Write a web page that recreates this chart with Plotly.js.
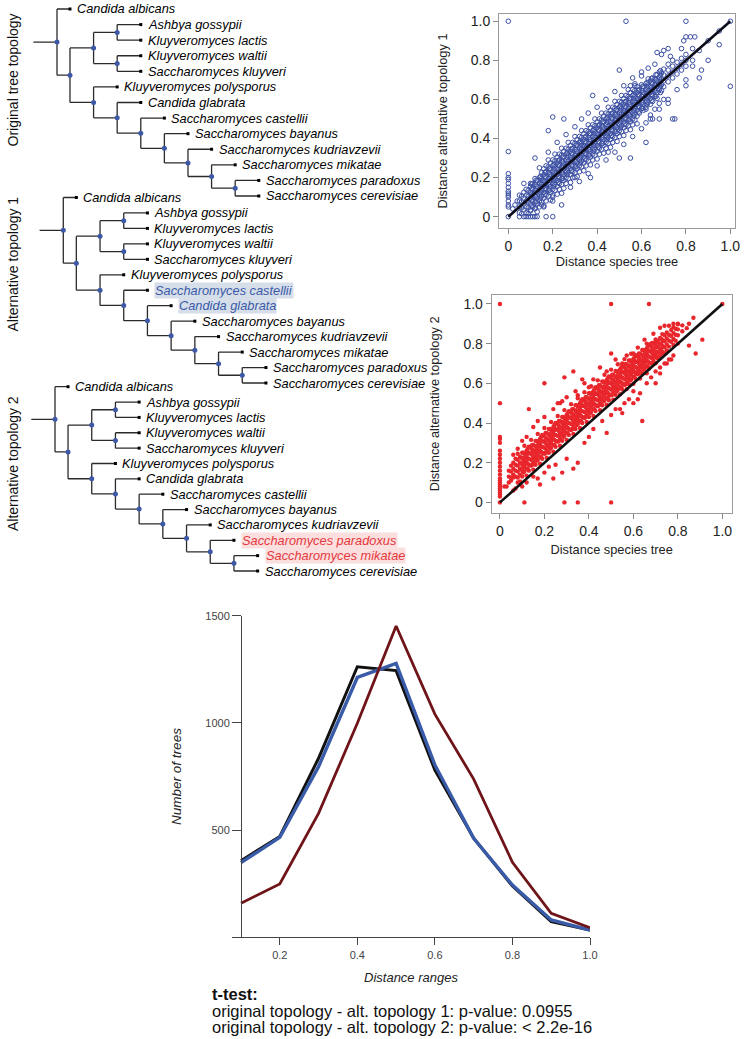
<!DOCTYPE html>
<html><head><meta charset="utf-8">
<script src="https://cdn.plot.ly/plotly-3.0.1.min.js"></script>
<style>html,body{margin:0;padding:0;background:#fff;}#chart{width:749px;height:1039px;}</style>
</head><body><div id="chart"></div>
<script>
// ================= DATA =================
const treeOriginal = "(Candida albicans:0.55,(((Ashbya gossypii:1,Kluyveromyces lactis:1):1,(Kluyveromyces waltii:1,Saccharomyces kluyveri:1):1):1,(Kluyveromyces polysporus:1,(Candida glabrata:1,(Saccharomyces castellii:1,(Saccharomyces bayanus:1,(Saccharomyces kudriavzevii:1,(Saccharomyces mikatae:1,(Saccharomyces paradoxus:1,Saccharomyces cerevisiae:1):1):1):1):1):1):1):1):0.55)";
const treeAlt1 = "(Candida albicans:0.55,(((Ashbya gossypii:1,Kluyveromyces lactis:1):1,(Kluyveromyces waltii:1,Saccharomyces kluyveri:1):1):1,(Kluyveromyces polysporus:1,(Saccharomyces castellii:1,(Candida glabrata:1,(Saccharomyces bayanus:1,(Saccharomyces kudriavzevii:1,(Saccharomyces mikatae:1,(Saccharomyces paradoxus:1,Saccharomyces cerevisiae:1):1):1):1):1):1):1):1):0.55)";
const treeAlt2 = "(Candida albicans:0.55,(((Ashbya gossypii:1,Kluyveromyces lactis:1):1,(Kluyveromyces waltii:1,Saccharomyces kluyveri:1):1):1,(Kluyveromyces polysporus:1,(Candida glabrata:1,(Saccharomyces castellii:1,(Saccharomyces bayanus:1,(Saccharomyces kudriavzevii:1,(Saccharomyces paradoxus:1,(Saccharomyces mikatae:1,Saccharomyces cerevisiae:1):1):1):1):1):1):1):1):0.55)";
const treeTitles = ["Original tree topology", "Alternative topology 1", "Alternative topology 2"];
const highlightAlt1 = ["Saccharomyces castellii", "Candida glabrata"];
const highlightAlt2 = ["Saccharomyces paradoxus", "Saccharomyces mikatae"];

// Scatter 1: distance species tree (x) vs distance alternative topology 1 (y), by columns of x
const alt1ColX = [0.05,0.06,0.07,0.08,0.09,0.10,0.11,0.12,0.13,0.14,0.15,0.16,0.17,0.18,0.19,0.20,0.21,0.22,0.23,0.24,0.25,0.26,0.27,0.28,0.29,0.30,0.31,0.32,0.33,0.34,0.35,0.36,0.37,0.38,0.39,0.40,0.41,0.42,0.43,0.44,0.45,0.46,0.47,0.48,0.49,0.50,0.51,0.52,0.53,0.54,0.55,0.56,0.57,0.58,0.59,0.60,0.61,0.62,0.63,0.64,0.65,0.66,0.67,0.68,0.69,0.70,0.72,0.74,0.76,0.78,0.80,0.83,0.86,0.90,0.95];
const alt1ColY = [
 [0.02,0.05,0.08,0.11],
 [0.015,0.045,0.075,0.105],
 [0.035,0.065,0.095,0.125],
 [0.02,0.05,0.08,0.11,0.14],
 [0.015,0.045,0.075,0.105,0.135],
 [0.035,0.065,0.095,0.125,0.155],
 [0.05,0.08,0.11,0.14,0.17],
 [0.045,0.075,0.105,0.135,0.165,0.195],
 [0.025,0.065,0.095,0.125,0.155,0.185],
 [0.05,0.08,0.11,0.14,0.17,0.2],
 [0.075,0.105,0.135,0.165,0.195,0.225],
 [0.055,0.095,0.125,0.155,0.185,0.215,0.245],
 [0.08,0.11,0.14,0.17,0.2,0.23,0.26],
 [0.105,0.135,0.165,0.195,0.225,0.255,0.29],
 [0.085,0.125,0.155,0.185,0.215,0.245,0.275],
 [0.11,0.14,0.17,0.2,0.23,0.26,0.29],
 [0.135,0.165,0.195,0.225,0.255,0.285,0.32],
 [0.115,0.155,0.185,0.215,0.245,0.275,0.305],
 [0.14,0.17,0.2,0.23,0.26,0.29,0.32],
 [0.165,0.195,0.225,0.255,0.285,0.315,0.35],
 [0.145,0.185,0.215,0.245,0.275,0.305,0.335],
 [0.17,0.2,0.23,0.26,0.29,0.32,0.35],
 [0.195,0.225,0.255,0.285,0.315,0.345,0.38],
 [0.175,0.215,0.245,0.275,0.305,0.335,0.365],
 [0.2,0.23,0.26,0.29,0.32,0.35,0.38],
 [0.225,0.255,0.285,0.315,0.345,0.375,0.41],
 [0.205,0.245,0.275,0.305,0.335,0.365,0.395],
 [0.23,0.26,0.29,0.32,0.35,0.38,0.41],
 [0.255,0.285,0.315,0.345,0.375,0.405,0.44],
 [0.235,0.275,0.305,0.335,0.365,0.395,0.425],
 [0.26,0.29,0.32,0.35,0.38,0.41,0.44],
 [0.285,0.315,0.345,0.375,0.405,0.435,0.47],
 [0.265,0.305,0.335,0.365,0.395,0.425,0.455],
 [0.29,0.32,0.35,0.38,0.41,0.44,0.47],
 [0.315,0.345,0.375,0.405,0.435,0.465,0.5],
 [0.295,0.335,0.365,0.395,0.425,0.455,0.485],
 [0.32,0.35,0.38,0.41,0.44,0.47,0.5],
 [0.345,0.375,0.405,0.435,0.465,0.495,0.53],
 [0.325,0.365,0.395,0.425,0.455,0.485,0.515],
 [0.35,0.38,0.41,0.44,0.47,0.5,0.53],
 [0.375,0.405,0.435,0.465,0.495,0.525,0.56],
 [0.355,0.395,0.425,0.455,0.485,0.515,0.545],
 [0.38,0.41,0.44,0.47,0.5,0.53,0.56],
 [0.405,0.435,0.465,0.495,0.525,0.555,0.59],
 [0.385,0.425,0.455,0.485,0.515,0.545,0.575],
 [0.41,0.44,0.47,0.5,0.53,0.56,0.59],
 [0.435,0.465,0.495,0.525,0.555,0.585,0.62],
 [0.415,0.455,0.485,0.515,0.545,0.575,0.605],
 [0.44,0.47,0.5,0.53,0.56,0.59,0.62],
 [0.465,0.495,0.525,0.555,0.585,0.615,0.65],
 [0.445,0.485,0.515,0.545,0.575,0.605,0.635],
 [0.47,0.5,0.53,0.56,0.59,0.62,0.65],
 [0.495,0.525,0.555,0.585,0.615,0.645,0.68],
 [0.475,0.515,0.545,0.575,0.605,0.635,0.665],
 [0.53,0.56,0.59,0.62,0.65],
 [0.555,0.585,0.615,0.645,0.675],
 [0.545,0.575,0.605,0.635,0.665],
 [0.56,0.59,0.62,0.65,0.68],
 [0.585,0.615,0.645,0.675,0.705],
 [0.575,0.605,0.635,0.665,0.695],
 [0.59,0.62,0.65,0.68,0.71],
 [0.615,0.645,0.675,0.705],
 [0.605,0.635,0.665,0.695,0.725],
 [0.65,0.68,0.71,0.74],
 [0.645,0.675,0.705,0.735],
 [0.665,0.695,0.725,0.755],
 [0.69,0.72,0.75,0.78],
 [0.71,0.74,0.77,0.8],
 [0.73,0.76,0.79],
 [0.75,0.78,0.81],
 [0.77,0.8,0.83],
 [0.8,0.86],
 [0.85],
 [0.9],
 [0.95]
];
// extra dense-core columns of scatter 1
const alt1CoreX = [0.105,0.125,0.145,0.165,0.185,0.205,0.225,0.245,0.265,0.285,0.305,0.325,0.345,0.365,0.385,0.405,0.425,0.445,0.465,0.485,0.505,0.525,0.545,0.565,0.585,0.605,0.625,0.645,0.665,0.685];
const alt1CoreY = [
 [0.055,0.083,0.113,0.143,0.167],[0.075,0.103,0.133,0.163,0.187],[0.095,0.123,0.153,0.183,0.207],[0.115,0.143,0.173,0.203,0.227],
 [0.135,0.163,0.193,0.223,0.247],[0.155,0.183,0.213,0.243,0.267],[0.175,0.203,0.233,0.263,0.287],[0.195,0.223,0.253,0.283,0.307],
 [0.215,0.243,0.273,0.303,0.327],[0.235,0.263,0.293,0.323,0.347],[0.255,0.283,0.313,0.343,0.367],[0.275,0.303,0.333,0.363,0.387],
 [0.295,0.323,0.353,0.383,0.407],[0.315,0.343,0.373,0.403,0.427],[0.335,0.363,0.393,0.423,0.447],[0.355,0.383,0.413,0.443,0.467],
 [0.375,0.403,0.433,0.463,0.487],[0.395,0.423,0.453,0.483,0.507],[0.415,0.443,0.473,0.503,0.527],[0.435,0.463,0.493,0.523,0.547],
 [0.455,0.483,0.513,0.543,0.567],[0.475,0.503,0.533,0.563,0.587],[0.495,0.523,0.553,0.583,0.607],[0.515,0.543,0.573,0.603,0.627],
 [0.535,0.563,0.593,0.623,0.647],[0.555,0.583,0.613,0.643,0.667],[0.575,0.603,0.633,0.663,0.687],[0.595,0.623,0.653,0.683,0.707],
 [0.615,0.643,0.673,0.703,0.727],[0.635,0.663,0.693,0.723,0.747]
];
const alt1Outliers = [[0,0],[0,0.05],[0,0.06],[0,0.08],[0,0.1],[0,0.11],[0,0.12],[0,0.13],[0,0.15],[0,0.17],[0,0.19],[0,0.2],[0,0.22],[0,0.333],[0,1],
 [0.05,0],[0.07,0],[0.08,0],[0.09,0],[0.1,0],[0.11,0],[0.12,0],[0.13,0],[0.17,0],[0.2,0],
 [0.53,1],[0.8,1],[1,1],[1,0.667],[0.95,0.88],[0.9,0.8],[0.87,0.75],[0.86,0.71],[0.83,0.77],[0.8,0.7],[0.8,0.67],[0.79,0.9],[0.8,0.92],[0.82,0.92],[0.84,0.92],[0.78,0.86],
 [0.76,0.65],[0.75,0.5],[0.74,0.5],[0.72,0.6],[0.7,0.6],[0.68,0.58],[0.66,0.55],[0.64,0.5],[0.62,0.48],[0.68,0.5],[0.65,0.5],[0.62,0.55],
 [0.6,0.72],[0.55,0.67],[0.57,0.67],[0.5,0.75],[0.38,0.62],[0.2,0.51],[0.25,0.5],[0.18,0.44],[0.07,0.17],[0.12,0.3],[0.1,0.17],
 [0.37,0.2],[0.3,0.2],[0.24,0.06],[0.2,0.1],[0.15,0.06],[0.16,0.05],[0.1,0.03],[0.12,0.04],[0.45,0.33],[0.5,0.3],[0.62,0.38],[0.55,0.3],
 [0.03,0.06],[0.04,0.08],[0.02,0.04],[0.69,0.83],[0.7,0.85],[0.72,0.86],[0.73,0.82],[0.67,0.84],
 [0.14,0.25],[0.18,0.33],[0.22,0.38],[0.26,0.42],[0.3,0.46],[0.33,0.5],[0.36,0.53],[0.4,0.56],[0.44,0.6],[0.48,0.64],[0.52,0.67],[0.56,0.71],[0.6,0.74],[0.63,0.76],[0.66,0.78],
 [0.2,0.08],[0.24,0.12],[0.28,0.15],[0.32,0.18],[0.36,0.22],[0.4,0.26],[0.44,0.29],[0.48,0.33],[0.52,0.37],[0.56,0.41],[0.6,0.45],[0.64,0.52],[0.68,0.55],[0.72,0.58]];

// Scatter 2: distance species tree (x) vs distance alternative topology 2 (y), by columns of x
const alt2ColX = [0.04,0.05,0.06,0.07,0.08,0.09,0.10,0.11,0.12,0.13,0.14,0.15,0.16,0.17,0.18,0.19,0.20,0.21,0.22,0.23,0.24,0.25,0.26,0.27,0.28,0.29,0.30,0.31,0.32,0.33,0.34,0.35,0.36,0.37,0.38,0.39,0.40,0.41,0.42,0.43,0.44,0.45,0.46,0.47,0.48,0.49,0.50,0.51,0.52,0.53,0.54,0.55,0.56,0.57,0.58,0.59,0.60,0.61,0.62,0.63,0.64,0.65,0.66,0.67,0.68,0.69,0.70,0.71,0.72,0.73,0.74,0.75,0.76,0.77,0.78,0.79,0.80,0.82,0.84];
const alt2ColY = [
 [0.10,0.13,0.16],
 [0.11,0.125,0.155,0.185],
 [0.125,0.14,0.17,0.2],
 [0.13,0.16,0.19,0.22],
 [0.125,0.155,0.185,0.215,0.245],
 [0.105,0.14,0.17,0.2,0.23],
 [0.13,0.16,0.19,0.22,0.25],
 [0.155,0.185,0.215,0.245,0.285],
 [0.135,0.17,0.2,0.23,0.26],
 [0.16,0.19,0.22,0.25,0.28],
 [0.185,0.215,0.245,0.275,0.315],
 [0.165,0.2,0.23,0.26,0.29],
 [0.19,0.22,0.25,0.28,0.31],
 [0.215,0.245,0.275,0.305,0.345],
 [0.195,0.23,0.26,0.29,0.32],
 [0.22,0.25,0.28,0.31,0.34],
 [0.245,0.275,0.305,0.335,0.375],
 [0.225,0.26,0.29,0.32,0.35],
 [0.25,0.28,0.31,0.34,0.37],
 [0.275,0.305,0.335,0.365,0.405],
 [0.255,0.29,0.32,0.35,0.38],
 [0.28,0.31,0.34,0.37,0.40],
 [0.305,0.335,0.365,0.395,0.435],
 [0.285,0.32,0.35,0.38,0.41],
 [0.31,0.34,0.37,0.40,0.43],
 [0.335,0.365,0.395,0.425,0.465],
 [0.315,0.35,0.38,0.41,0.44],
 [0.34,0.37,0.40,0.43,0.46],
 [0.365,0.395,0.425,0.455,0.495],
 [0.345,0.38,0.41,0.44,0.47],
 [0.37,0.40,0.43,0.46,0.49],
 [0.395,0.425,0.455,0.485,0.525],
 [0.375,0.41,0.44,0.47,0.50],
 [0.40,0.43,0.46,0.49,0.52],
 [0.425,0.455,0.485,0.515,0.555],
 [0.405,0.44,0.47,0.50,0.53],
 [0.43,0.46,0.49,0.52,0.55],
 [0.455,0.485,0.515,0.545,0.585],
 [0.435,0.47,0.50,0.53,0.56],
 [0.46,0.49,0.52,0.55,0.58],
 [0.485,0.515,0.545,0.575,0.615],
 [0.465,0.50,0.53,0.56,0.59],
 [0.489,0.519,0.549,0.579,0.609],
 [0.513,0.543,0.573,0.603,0.643],
 [0.492,0.527,0.557,0.587,0.617],
 [0.515,0.545,0.575,0.605,0.635],
 [0.539,0.569,0.599,0.629,0.669],
 [0.518,0.553,0.583,0.613,0.643],
 [0.542,0.572,0.602,0.632,0.662],
 [0.566,0.596,0.626,0.656,0.696],
 [0.545,0.58,0.61,0.64,0.67],
 [0.569,0.599,0.629,0.659,0.689],
 [0.592,0.622,0.652,0.682,0.722],
 [0.571,0.606,0.636,0.666,0.696],
 [0.595,0.625,0.655,0.685,0.715],
 [0.619,0.649,0.679,0.709,0.749],
 [0.598,0.633,0.663,0.693,0.723],
 [0.622,0.652,0.682,0.712,0.742],
 [0.646,0.676,0.706,0.736],
 [0.624,0.659,0.689,0.719,0.749],
 [0.648,0.678,0.708,0.738,0.768],
 [0.672,0.702,0.732,0.762],
 [0.651,0.686,0.716,0.746,0.776],
 [0.675,0.705,0.735,0.765,0.795],
 [0.699,0.729,0.759,0.789],
 [0.713,0.743,0.773,0.803],
 [0.701,0.731,0.761,0.791,0.821],
 [0.725,0.755,0.785,0.815],
 [0.739,0.769,0.799,0.829],
 [0.758,0.788,0.818,0.848],
 [0.752,0.782,0.812,0.842],
 [0.766,0.796,0.826,0.856],
 [0.785,0.815,0.845],
 [0.809,0.839,0.869],
 [0.793,0.823,0.853,0.883],
 [0.815,0.845,0.875],
 [0.842,0.872,0.897],
 [0.862,0.892],
 [0.878]
];
// extra dense-core columns of scatter 2
const alt2CoreX = [0.105,0.125,0.145,0.165,0.185,0.205,0.225,0.245,0.265,0.285,0.305,0.325,0.345,0.365,0.385,0.405,0.425,0.445,0.465,0.485,0.505,0.525,0.545,0.565,0.585,0.605,0.625,0.645,0.665,0.685,0.705,0.725];
const alt2CoreY = [
 [0.15,0.175,0.2,0.225,0.25],[0.17,0.195,0.22,0.245,0.27],[0.19,0.215,0.24,0.265,0.29],[0.21,0.235,0.26,0.285,0.31],
 [0.23,0.255,0.28,0.305,0.33],[0.25,0.275,0.3,0.325,0.35],[0.27,0.295,0.32,0.345,0.37],[0.29,0.315,0.34,0.365,0.39],
 [0.31,0.335,0.36,0.385,0.41],[0.33,0.355,0.38,0.405,0.43],[0.35,0.375,0.4,0.425,0.45],[0.37,0.395,0.42,0.445,0.47],
 [0.39,0.415,0.44,0.465,0.49],[0.41,0.435,0.46,0.485,0.51],[0.43,0.455,0.48,0.505,0.53],[0.45,0.475,0.5,0.525,0.55],
 [0.47,0.495,0.52,0.545,0.57],[0.49,0.515,0.54,0.565,0.59],[0.508,0.533,0.558,0.583,0.608],[0.526,0.551,0.576,0.601,0.626],
 [0.544,0.569,0.594,0.619,0.644],[0.561,0.586,0.611,0.636,0.661],[0.579,0.604,0.629,0.654,0.679],[0.597,0.622,0.647,0.672,0.697],
 [0.615,0.64,0.665,0.69,0.715],[0.632,0.657,0.682,0.707,0.732],[0.65,0.675,0.7,0.725,0.75],[0.668,0.693,0.718,0.743,0.768],
 [0.685,0.71,0.735,0.76,0.785],[0.703,0.728,0.753,0.778,0.803],[0.731,0.756,0.781,0.806],[0.749,0.774,0.799,0.824]
];
const alt2Outliers = [[0,1],[0.5,1],[0.67,1],[1,1],[0,0.5],[0,0.03],[0,0.04],[0,0.05],[0,0.06],[0,0.07],[0,0.08],[0,0.09],[0,0.1],[0,0.11],[0,0.12],[0,0.14],[0,0.16],[0,0.18],[0,0.2],[0,0.22],[0,0.24],[0,0.26],[0,0.3],[0,0.32],[0,0.33],[0,0],
 [0.11,0],[0.29,0],[0.35,0],[0.5,0],
 [0.2,0.6],[0.13,0.47],[0.29,0.63],[0.33,0.66],[0.37,0.62],[0.26,0.5],[0.27,0.5],[0.5,0.75],[0.6,0.75],[0.65,0.82],[0.69,0.85],[0.72,0.88],[0.74,0.89],[0.76,0.89],[0.78,0.9],[0.8,0.9],[0.87,0.93],[0.85,0.9],
 [0.91,0.82],[0.88,0.75],[0.85,0.79],[0.8,0.8],[0.77,0.72],[0.75,0.7],[0.72,0.65],[0.7,0.6],[0.64,0.41],[0.6,0.5],[0.55,0.45],[0.48,0.35],[0.35,0.2],[0.33,0.17],[0.28,0.15],[0.24,0.12],
 [0.17,0.12],[0.18,0.09],[0.15,0.13],[0.02,0.08],[0.03,0.08],[0.06,0.06],[0.08,0.1],[0.09,0.1],[0.35,0.54],[0.4,0.58],[0.45,0.68],[0.55,0.7],[0.62,0.66],[0.7,0.74],[0.68,0.8],
 [0.42,0.37],[0.46,0.41],[0.52,0.47],[0.56,0.5],[0.6,0.56],[0.63,0.55],[0.66,0.6],[0.7,0.66],[0.72,0.68],[0.74,0.7],[0.76,0.72],[0.78,0.74],[0.58,0.52],[0.5,0.44],[0.54,0.47],[0.62,0.52],[0.68,0.63],[0.4,0.33],[0.38,0.3],[0.3,0.22],[0.25,0.19],[0.22,0.18],[0.2,0.15],[0.12,0.1],[0.1,0.08],[0.07,0.07],
 [0.15,0.38],[0.17,0.41],[0.2,0.43],[0.24,0.47],[0.28,0.51],[0.3,0.53],[0.34,0.56],[0.38,0.6],[0.42,0.62],[0.48,0.66],[0.52,0.72],[0.57,0.74],[0.62,0.78],[0.66,0.8],[0.1,0.31],[0.12,0.33],[0.08,0.27],[0.06,0.24]];

const diagonal = [0, 1];
const tickVals01 = [0, 0.2, 0.4, 0.6, 0.8, 1];
const tickText01 = ["0", "0.2", "0.4", "0.6", "0.8", "1.0"];

// Line chart: number of trees per distance range
const distanceRanges = [0.1, 0.2, 0.3, 0.4, 0.5, 0.6, 0.7, 0.8, 0.9, 1.0];
const countOriginal = [357, 470, 835, 1262, 1244, 780, 462, 239, 73, 34];
const countAlt1 = [348, 466, 796, 1212, 1278, 804, 462, 244, 81, 34];
const countAlt2 = [159, 249, 578, 998, 1452, 1041, 738, 350, 112, 45];
const rangeTicks = [0.2, 0.4, 0.6, 0.8, 1.0];
const rangeTickText = ["0.2", "0.4", "0.6", "0.8", "1.0"];
const countTicks = [500, 1000, 1500];

const ttestTitle = "t-test:";
const ttestLines = ["original topology - alt. topology 1: p-value: 0.0955",
                    "original topology - alt. topology 2: p-value: < 2.2e-16"];

// ================= HELPERS =================
const W = 749, H = 1039;
const FONT = "Liberation Sans, Arial, Helvetica, sans-serif";
const xd = (a, b) => [a / W, b / W];
const yd = (top, bottom) => [1 - bottom / H, 1 - top / H];

function parseNewick(s) {
  let i = 0;
  function node() {
    const n = {children: [], name: "", len: 0};
    if (s[i] === "(") {
      i++;
      n.children.push(node());
      while (s[i] === ",") { i++; n.children.push(node()); }
      i++;
    }
    let name = "";
    while (i < s.length && !",():;".includes(s[i])) { name += s[i]; i++; }
    n.name = name.trim();
    if (s[i] === ":") {
      i++; let num = "";
      while (i < s.length && !",();".includes(s[i])) { num += s[i]; i++; }
      n.len = parseFloat(num);
    }
    return n;
  }
  return node();
}

function layoutTree(root) {
  let leafIdx = 0;
  const leaves = [], internals = [];
  (function rec(n, depth) {
    n.x = depth;
    if (!n.children.length) { n.y = leafIdx++; leaves.push(n); return; }
    n.children.forEach(c => rec(c, depth + c.len));
    n.y = (n.children[0].y + n.children[n.children.length - 1].y) / 2;
    internals.push(n);
  })(root, 0);
  const lx = [], ly = [];
  lx.push(-1, 0, null); ly.push(root.y, root.y, null); // root stem
  internals.forEach(n => {
    const f = n.children[0], l = n.children[n.children.length - 1];
    lx.push(n.x, n.x, null); ly.push(f.y, l.y, null);
    n.children.forEach(c => { lx.push(n.x, c.x, null); ly.push(c.y, c.y, null); });
  });
  return {leaves, internals, lx, ly, nLeaves: leafIdx};
}

// ================= BUILD =================
const traces = [];
const annotations = [];
const layout = {
  width: W, height: H, margin: {l: 0, r: 0, t: 0, b: 0},
  paper_bgcolor: "#fff", plot_bgcolor: "rgba(0,0,0,0)",
  showlegend: false, font: {family: FONT, color: "#222"},
  annotations: annotations
};

const trees = [treeOriginal, treeAlt1, treeAlt2];
const highlights = [[], highlightAlt1, highlightAlt2];
const hlStyle = [null, {color: "#3a5aa8", bg: "#d6dee9"}, {color: "#e5383d", bg: "#fbdede"}];
const panels = [
  {root: 57, unit: 23.6, top: 9, bottom: 196, labelY: 80},
  {root: 63.3, unit: 23.7, top: 197.5, bottom: 383, labelY: 264},
  {root: 55, unit: 23.7, top: 386.7, bottom: 571, labelY: 463.5}
];

trees.forEach((nw, k) => {
  const t = layoutTree(parseNewick(nw));
  const p = panels[k];
  const ax = k === 0 ? "" : String(k + 1);
  const xr = [-1.2, 10.5];
  const step = (p.bottom - p.top) / (t.nLeaves - 1);
  layout["xaxis" + ax] = {domain: xd(p.root + xr[0] * p.unit, p.root + xr[1] * p.unit), range: xr, visible: false, fixedrange: true};
  layout["yaxis" + ax] = {domain: yd(p.top - 0.5 * step, p.bottom + 0.5 * step), range: [t.nLeaves - 0.5, -0.5], visible: false, fixedrange: true};
  const xa = "x" + ax, ya = "y" + ax;
  traces.push({type: "scatter", mode: "lines", x: t.lx, y: t.ly, xaxis: xa, yaxis: ya,
    line: {color: "#2b2b2b", width: 1.3}, hoverinfo: "skip"});
  traces.push({type: "scatter", mode: "markers", x: t.leaves.map(n => n.x), y: t.leaves.map(n => n.y), xaxis: xa, yaxis: ya,
    marker: {symbol: "square", size: 3, color: "#000"}, hoverinfo: "skip", cliponaxis: false});
  traces.push({type: "scatter", mode: "markers", x: t.internals.map(n => n.x), y: t.internals.map(n => n.y), xaxis: xa, yaxis: ya,
    marker: {symbol: "circle", size: 5, color: "#3d58a6"}, hoverinfo: "skip", cliponaxis: false});
  t.leaves.forEach(n => {
    const hl = highlights[k].includes(n.name);
    const a = {x: n.x, y: n.y, xref: xa, yref: ya, xanchor: "left", yanchor: "middle", xshift: hl ? 7 : 5,
      text: "<i>" + n.name + "</i>", showarrow: false,
      font: {family: FONT, size: 12.8, color: hl ? hlStyle[k].color : "#000"}};
    if (hl) { a.bgcolor = hlStyle[k].bg; a.borderpad = 0; }
    annotations.push(a);
  });
  annotations.push({x: 12.5 / W, y: 1 - p.labelY / H, xref: "paper", yref: "paper", xanchor: "center", yanchor: "middle",
    textangle: -90, text: treeTitles[k], showarrow: false, font: {family: FONT, size: 14, color: "#111"}});
});

function flatten(colX, colY, coreX, coreY, extra) {
  const x = [], y = [];
  colX.forEach((cx, i) => colY[i].forEach(v => { x.push(cx); y.push(v); }));
  coreX.forEach((cx, i) => coreY[i].forEach(v => { x.push(cx); y.push(v); }));
  extra.forEach(p => { x.push(p[0]); y.push(p[1]); });
  return {x, y};
}

function scatterAxes(n, xpx, xrange, ypx, yrange, ytitle, ystand, xstand) {
  const common = {showline: true, mirror: true, linecolor: "#9a9a9a", linewidth: 1, ticks: "outside", ticklen: 5,
    tickcolor: "#888", tickvals: tickVals01, ticktext: tickText01, showgrid: false, zeroline: false, fixedrange: true,
    tickfont: {family: FONT, size: 14, color: "#222"}};
  layout["xaxis" + n] = Object.assign({}, common, {domain: xd(xpx[0], xpx[1]), range: xrange, anchor: "y" + n,
    title: {text: "Distance species tree", font: {family: FONT, size: 12.8, color: "#222"}, standoff: xstand}});
  layout["yaxis" + n] = Object.assign({}, common, {domain: yd(ypx[0], ypx[1]), range: yrange, anchor: "x" + n,
    title: {text: ytitle, font: {family: FONT, size: 12.8, color: "#222"}, standoff: ystand}});
}

scatterAxes(4, [499, 735], [-0.042, 1.021], [14, 228], [-0.058, 1.037], "Distance alternative topology 1", 20, 3);
scatterAxes(5, [491.7, 731.7], [-0.037, 1.042], [295, 512.7], [-0.052, 1.045], "Distance alternative topology 2", 20, 7);

const s1 = flatten(alt1ColX, alt1ColY, alt1CoreX, alt1CoreY, alt1Outliers);
traces.push({type: "scatter", mode: "markers", x: s1.x, y: s1.y, xaxis: "x4", yaxis: "y4",
  marker: {symbol: "circle-open", size: 4.6, color: "#3b4fa3", line: {width: 1}}, hoverinfo: "skip"});
traces.push({type: "scatter", mode: "lines", x: diagonal, y: diagonal, xaxis: "x4", yaxis: "y4",
  line: {color: "#0d0d1a", width: 2.6}, hoverinfo: "skip"});

const s2 = flatten(alt2ColX, alt2ColY, alt2CoreX, alt2CoreY, alt2Outliers);
traces.push({type: "scatter", mode: "markers", x: s2.x, y: s2.y, xaxis: "x5", yaxis: "y5",
  marker: {symbol: "circle", size: 4.4, color: "#e8262b"}, hoverinfo: "skip"});
traces.push({type: "scatter", mode: "lines", x: diagonal, y: diagonal, xaxis: "x5", yaxis: "y5",
  line: {color: "#111", width: 2.6}, hoverinfo: "skip"});

// Line chart
layout.xaxis6 = {domain: xd(232, 590), range: [0.0768, 1.0], anchor: "y6", showline: true, linecolor: "#444", linewidth: 1,
  ticks: "outside", ticklen: 7, tickcolor: "#444", tickvals: rangeTicks, ticktext: rangeTickText, showgrid: false, zeroline: false,
  fixedrange: true, tickfont: {family: FONT, size: 11, color: "#444"},
  title: {text: "<i>Distance ranges</i>", font: {family: FONT, size: 13, color: "#222"}, standoff: 13}};
layout.yaxis6 = {domain: yd(615.7, 937.3), range: [0, 1500], anchor: "free", position: 241 / W, showline: true, linecolor: "#444",
  linewidth: 1, ticks: "outside", ticklen: 9, tickcolor: "#444", tickvals: countTicks, showgrid: false, zeroline: false,
  fixedrange: true, tickfont: {family: FONT, size: 11, color: "#444"},
  title: {text: "<i>Number of trees</i>", font: {family: FONT, size: 13.5, color: "#222"}, standoff: 19}};

traces.push({type: "scatter", mode: "lines", x: distanceRanges, y: countOriginal, xaxis: "x6", yaxis: "y6",
  line: {color: "#111", width: 3}, hoverinfo: "skip"});
traces.push({type: "scatter", mode: "lines", x: distanceRanges, y: countAlt1, xaxis: "x6", yaxis: "y6",
  line: {color: "#3a5ca8", width: 3.4}, hoverinfo: "skip"});
traces.push({type: "scatter", mode: "lines", x: distanceRanges, y: countAlt2, xaxis: "x6", yaxis: "y6",
  line: {color: "#6f1519", width: 2.8}, hoverinfo: "skip"});

annotations.push({x: 210 / W, y: 1 - 994 / H, xref: "paper", yref: "paper", xanchor: "left", yanchor: "middle",
  text: "<b>" + ttestTitle + "</b>", showarrow: false, font: {family: FONT, size: 16.5, color: "#111"}});
ttestLines.forEach((t, i) => annotations.push({x: 210 / W, y: 1 - (1011 + 16 * i) / H, xref: "paper", yref: "paper",
  xanchor: "left", yanchor: "middle", text: t, showarrow: false, font: {family: FONT, size: 16.5, color: "#111"}}));

Plotly.newPlot("chart", traces, layout, {staticPlot: true, displayModeBar: false});
</script>
</body></html>
